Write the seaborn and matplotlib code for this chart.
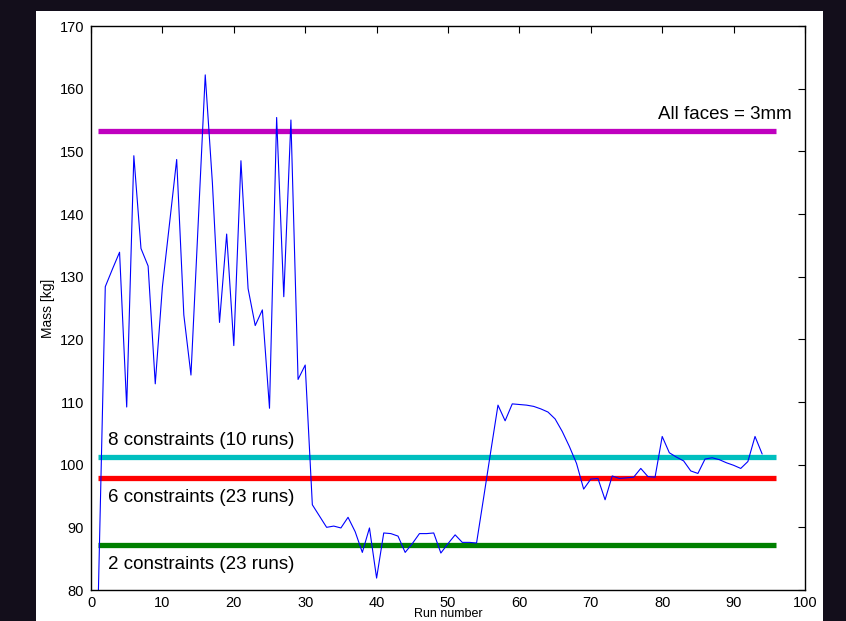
import numpy as np
import pandas as pd
import matplotlib
matplotlib.use("Agg")
import matplotlib.pyplot as plt
from matplotlib.patches import Rectangle
import seaborn as sns

# mass per run
runs = list(range(1, 95))
mass = [
    78.0, 128.4, 131.2, 133.9, 109.2, 149.3, 134.5, 131.7, 112.9, 128.4,
    138.5, 148.7, 123.9, 114.3, 138.2, 162.2, 145.0, 122.7, 136.8, 119.0,
    148.5, 128.1, 122.2, 124.7, 109.0, 155.4, 126.8, 155.0, 113.6, 115.9,
    93.6, 91.8, 90.0, 90.2, 89.9, 91.6, 89.3, 86.0, 89.9, 81.9,
    89.1, 89.0, 88.6, 86.0, 87.4, 89.0, 89.0, 89.1, 85.9, 87.4,
    88.8, 87.6, 87.6, 87.5, 94.8, 102.2, 109.5, 107.0, 109.7, 109.6,
    109.5, 109.3, 108.9, 108.4, 107.3, 105.3, 102.9, 100.2, 96.1, 97.7,
    97.8, 94.4, 98.2, 97.8, 97.9, 98.0, 99.4, 98.1, 98.0, 104.5,
    101.9, 101.2, 100.6, 99.0, 98.6, 100.9, 101.1, 100.8, 100.3, 99.9,
    99.4, 100.5, 104.5, 101.7,
]

# reference levels (horizontal lines)
level_names = ["All faces = 3mm", "8 constraints (10 runs)",
               "6 constraints (23 runs)", "2 constraints (23 runs)"]
level_values = [153.2, 101.2, 97.9, 87.2]
level_colors = ["#bf00bf", "#00bfbf", "#ff0000", "#008000"]
level_span = [1, 96]

sns.set_style("white")
plt.rcParams["font.family"] = ["Liberation Sans", "DejaVu Sans"]
plt.rcParams["text.color"] = "black"
plt.rcParams["axes.labelcolor"] = "black"

fig = plt.figure(figsize=(8.46, 6.21), dpi=100, facecolor="#130e1b")
fig.patches.append(Rectangle((36 / 846, 0), 787 / 846, 610 / 621,
                             transform=fig.transFigure, facecolor="white",
                             edgecolor="none", zorder=-10))
ax = fig.add_axes([91 / 846, 1 - 590 / 621, 714 / 846, 564 / 621])
ax.set_facecolor("white")
ax.set_zorder(5)

for name, val, col in zip(level_names, level_values, level_colors):
    seg = pd.DataFrame({"x": level_span, "y": [val, val]})
    sns.lineplot(data=seg, x="x", y="y", color=col, linewidth=3.8,
                 solid_capstyle="butt", ax=ax)

df = pd.DataFrame({"run": runs, "mass": mass})
sns.lineplot(data=df, x="run", y="mass", color="#0000ff", linewidth=0.8, ax=ax)

txt = dict(fontsize=13.5, color="black")
ax.text(98.2, 155.8, level_names[0], ha="right", va="center", **txt)
ax.text(2.4, 103.9, level_names[1], ha="left", va="center", **txt)
ax.text(2.4, 94.8, level_names[2], ha="left", va="center", **txt)
ax.text(2.4, 84.0, level_names[3], ha="left", va="center", **txt)

ax.set_xlim(0, 100)
ax.set_ylim(80, 170)
ax.set_xticks(np.arange(0, 101, 10))
ax.set_yticks(np.arange(80, 171, 10))
ax.tick_params(direction="in", length=5, width=0.8, top=True, right=True,
               labelsize=10.5, colors="black", pad=5)
ax.tick_params(axis="x", pad=4)
for s in ax.spines.values():
    s.set_visible(True)
    s.set_color("black")
    s.set_linewidth(1.0)
ax.set_xlabel("Run number", fontsize=9, labelpad=-1)
ax.set_ylabel("Mass [kg]", fontsize=10, labelpad=3)

fig.savefig("out.png", dpi=100, facecolor=fig.get_facecolor())
